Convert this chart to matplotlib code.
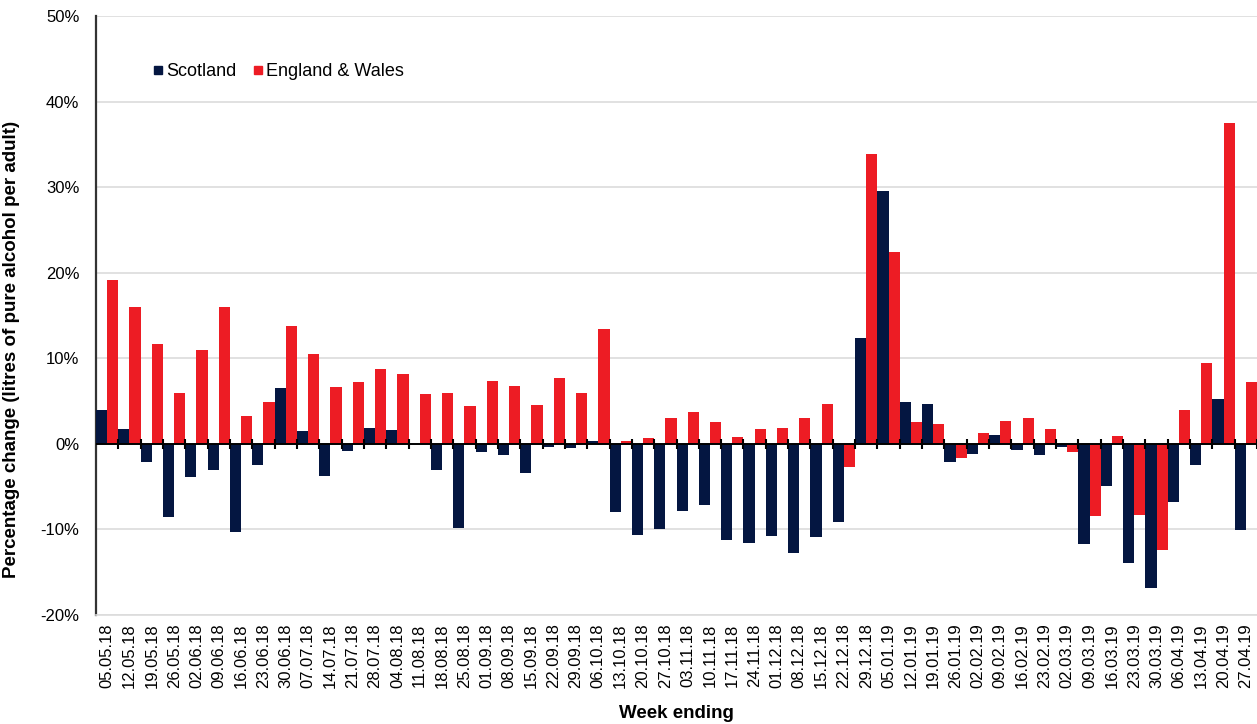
import matplotlib
matplotlib.use("Agg")
import matplotlib.pyplot as plt
from matplotlib.lines import Line2D
from matplotlib.ticker import FuncFormatter
import numpy as np

plt.rcParams['font.family'] = ['Liberation Sans', 'DejaVu Sans']

weeks = ["05.05.18", "12.05.18", "19.05.18", "26.05.18", "02.06.18", "09.06.18", "16.06.18",
         "23.06.18", "30.06.18", "07.07.18", "14.07.18", "21.07.18", "28.07.18", "04.08.18",
         "11.08.18", "18.08.18", "25.08.18", "01.09.18", "08.09.18", "15.09.18", "22.09.18",
         "29.09.18", "06.10.18", "13.10.18", "20.10.18", "27.10.18", "03.11.18", "10.11.18",
         "17.11.18", "24.11.18", "01.12.18", "08.12.18", "15.12.18", "22.12.18", "29.12.18",
         "05.01.19", "12.01.19", "19.01.19", "26.01.19", "02.02.19", "09.02.19", "16.02.19",
         "23.02.19", "02.03.19", "09.03.19", "16.03.19", "23.03.19", "30.03.19", "06.04.19",
         "13.04.19", "20.04.19", "27.04.19"]

scotland = [3.9, 1.7, -2.1, -8.5, -3.9, -3.1, -10.3,
            -2.5, 6.5, 1.5, -3.8, -0.8, 1.8, 1.6,
            0.0, -3.1, -9.8, -1.0, -1.3, -3.4, -0.4,
            -0.5, 0.3, -8.0, -10.6, -9.9, -7.8, -7.1,
            -11.2, -11.6, -10.8, -12.8, -10.9, -9.1, 12.4,
            29.6, 4.9, 4.6, -2.1, -1.2, 1.0, -0.7,
            -1.3, -0.4, -11.7, -4.9, -13.9, -16.9, -6.8,
            -2.5, 5.3, -10.1]

england_wales = [19.2, 16.0, 11.7, 6.0, 11.0, 16.0, 3.2,
                 4.9, 13.8, 10.5, 6.7, 7.2, 8.8, 8.2,
                 5.8, 6.0, 4.4, 7.3, 6.8, 4.5, 7.7,
                 6.0, 13.4, 0.3, 0.7, 3.0, 3.7, 2.6,
                 0.8, 1.7, 1.8, 3.0, 4.6, -2.7, 33.9,
                 22.4, 2.5, 2.3, -1.7, 1.3, 2.7, 3.0,
                 1.7, -0.9, -8.4, 0.9, -8.3, -12.4, 3.9,
                 9.5, 37.5, 7.2]

navy = '#041641'
red = '#ED1C24'

fig = plt.figure(figsize=(12.57, 7.24), dpi=100)
ax = fig.add_axes([96/1257, 1 - 615/724, 1 - 96/1257, (615 - 16)/724])

x = np.arange(len(weeks))
w = 0.5
ax.bar(x - w/2, scotland, width=w, color=navy, zorder=3, linewidth=0)
ax.bar(x + w/2, england_wales, width=w, color=red, zorder=3, linewidth=0)

# zero line with category boundary ticks
ax.axhline(0, color='black', linewidth=1.4, zorder=5)
ax.plot(x + 0.5, np.zeros(len(x)), linestyle='none', marker='|', markersize=7,
        markeredgewidth=1.5, color='black', zorder=6, clip_on=False)

ax.set_xlim(-0.5, len(weeks) - 0.5)
ax.set_ylim(-20, 50)
ax.set_yticks(np.arange(-20, 51, 10))
ax.yaxis.set_major_formatter(FuncFormatter(lambda v, p: f"{int(v)}%"))
ax.grid(axis='y', color='#dcdcdc', linewidth=1.2, zorder=0)
ax.set_axisbelow(True)

for s in ['top', 'right']:
    ax.spines[s].set_visible(False)
ax.spines['left'].set_color('#333333')
ax.spines['left'].set_linewidth(1.6)
ax.spines['bottom'].set_color('#dcdcdc')
ax.spines['bottom'].set_linewidth(1.2)

ax.tick_params(axis='y', length=0, pad=12, labelsize=12, colors='black')
ax.set_xticks(x)
ax.set_xticklabels(weeks, rotation=90, fontsize=12)
ax.tick_params(axis='x', length=0, pad=6)

ax.set_ylabel("Percentage change (litres of pure alcohol per adult)", fontsize=13.5,
              fontweight='bold')
ax.yaxis.set_label_coords(-0.0655, 0.444)
ax.set_xlabel("Week ending", fontsize=13.5, fontweight='bold', labelpad=12)

handles = [Line2D([], [], marker='s', linestyle='none', color=navy, markersize=6),
           Line2D([], [], marker='s', linestyle='none', color=red, markersize=6)]
ax.legend(handles, ["Scotland", "England & Wales"], loc='upper left',
          bbox_to_anchor=(0.035, 0.948), ncol=2, frameon=False, fontsize=13,
          handletextpad=0.15, columnspacing=0.9, handlelength=0.6)

fig.savefig("out.png", dpi=100)
